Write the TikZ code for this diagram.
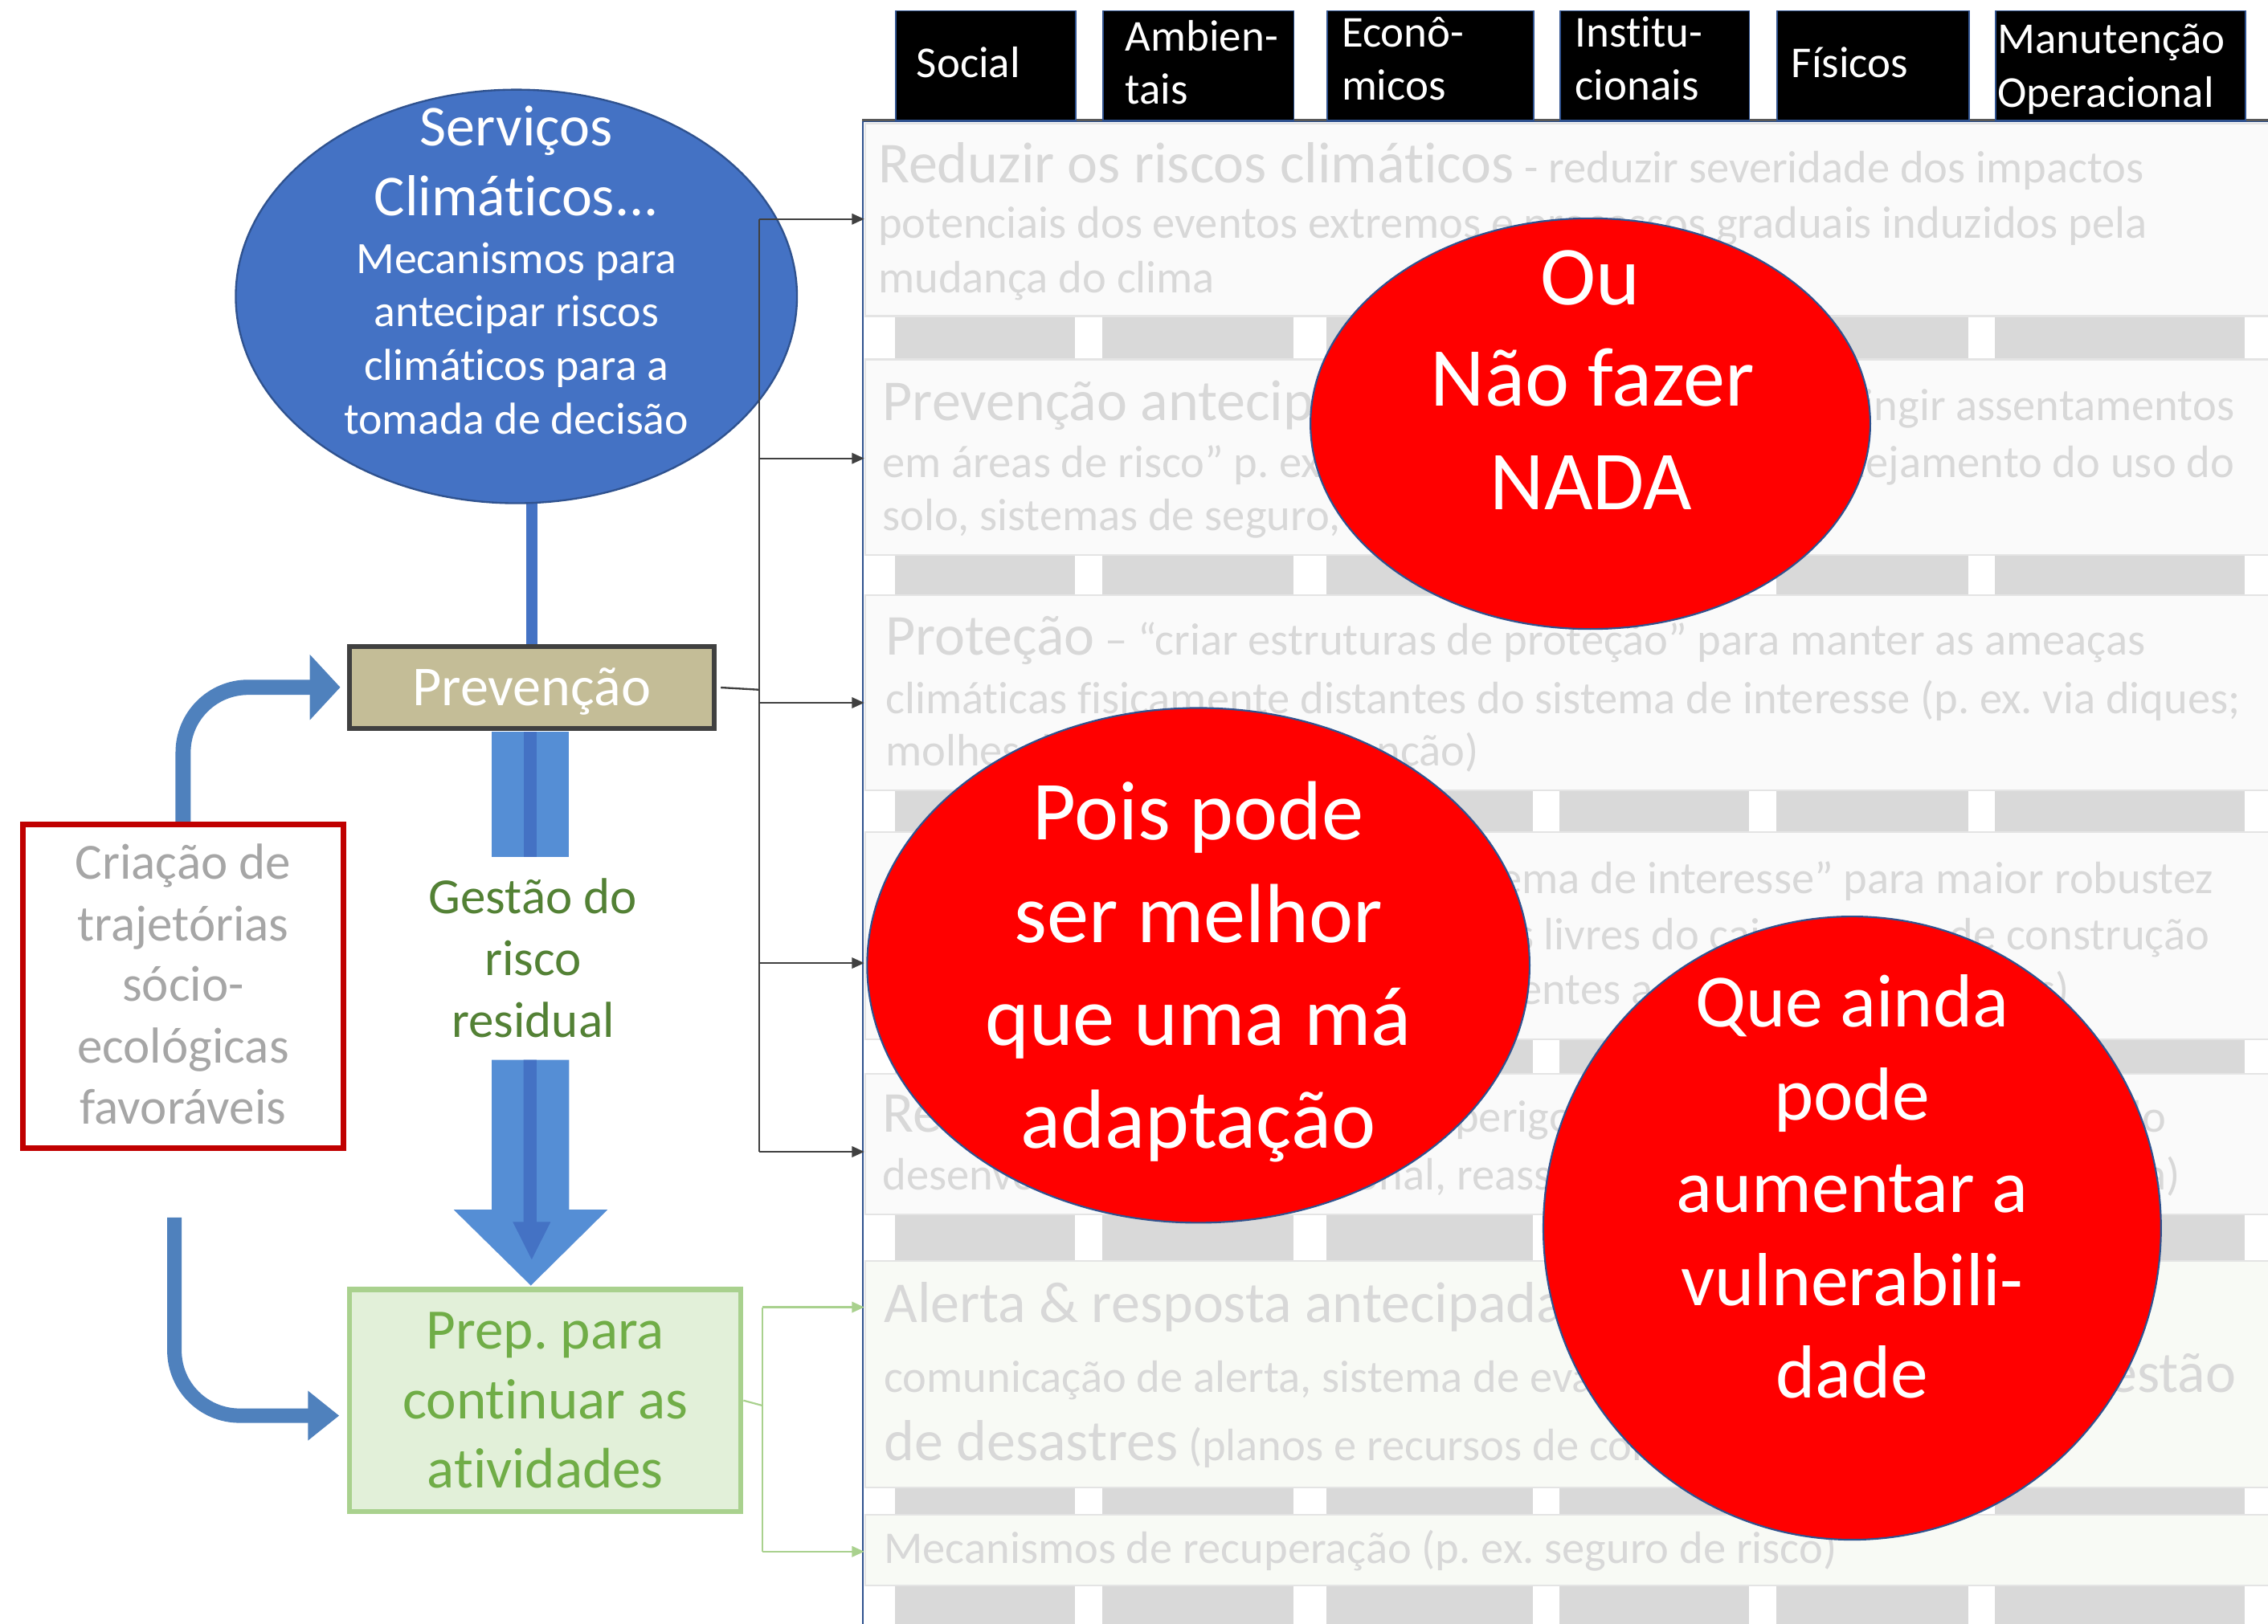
\documentclass[tikz,border=0pt]{standalone}
\usepackage{fontspec}
\setmainfont{Carlito}[Ligatures=NoCommon]
\usetikzlibrary{arrows.meta,backgrounds,shapes.geometric}
\frenchspacing
\definecolor{rowtxt}{RGB}{216,216,216}
\definecolor{rowfill}{RGB}{250,250,250}
\definecolor{rowfillg}{RGB}{248,250,245}
\definecolor{rowline}{RGB}{228,228,228}
\definecolor{stripgray}{RGB}{217,217,217}
\definecolor{hdrline}{RGB}{47,82,143}
\definecolor{panelline}{RGB}{47,82,143}
\definecolor{paneltop}{RGB}{89,89,89}
\definecolor{ellred}{RGB}{255,0,0}
\definecolor{ellline}{RGB}{47,82,143}
\definecolor{servfill}{RGB}{68,114,196}
\definecolor{prevfill}{RGB}{196,189,151}
\definecolor{prevline}{RGB}{64,64,64}
\definecolor{creared}{RGB}{192,0,0}
\definecolor{creatxt}{RGB}{166,166,166}
\definecolor{gestgreen}{RGB}{83,129,53}
\definecolor{prepfill}{RGB}{226,240,217}
\definecolor{prepline}{RGB}{169,209,142}
\definecolor{preptxt}{RGB}{112,173,71}
\definecolor{arrblue}{RGB}{85,142,213}
\definecolor{arrinner}{RGB}{68,114,196}
\definecolor{curveblue}{RGB}{79,129,189}
\definecolor{conngray}{RGB}{64,64,64}
\newcommand\fsz[1]{\fontsize{#1}{#1}\selectfont}
\newcommand\ttl[1]{{\fsz{40}#1}}
\tikzset{
  tb/.style 2 args={text height=#1pt, text depth=#2pt},
  rowbox/.style={draw=rowline, line width=1.2pt, fill=rowfill, anchor=north west, inner sep=0pt, minimum width=990pt},
  rowtext/.style={anchor=base west, inner sep=0pt, text=rowtxt, font=\fsz{31.4}, tb={24}{6}},
  hdrbox/.style={draw=hdrline, line width=1pt, fill=black, anchor=north west, inner sep=0pt, minimum height=76pt},
  hdrtext/.style={anchor=base west, inner sep=0pt, text=white, font=\fsz{30.5}, tb={22}{7}},
  redell/.style={ellipse, draw=ellline, line width=1.2pt, fill=ellred, inner sep=0pt},
  ctext/.style={anchor=base, inner sep=0pt},
  connline/.style={draw=conngray, line width=1.3pt},
  conn/.style={connline, -{Triangle[length=8.5pt,width=7.4pt]}},
  gconnline/.style={draw=prepline, line width=1.2pt},
  gconn/.style={gconnline, -{Triangle[length=8.5pt,width=7.4pt]}},
}
\begin{document}
\begin{tikzpicture}[x=1pt,y=-1pt]
\useasboundingbox (0,0) rectangle (1568,1123);
\begin{scope}[on background layer]
  \fill[white] (0,0) rectangle (1568,1123);
\end{scope}

% ---------- panel ----------
\node[draw=panelline, line width=1.3pt, fill=white, anchor=north west, minimum width=1000pt, minimum height=1060pt, inner sep=0pt] (panel) at (596,83) {};
\draw[paneltop, line width=2pt] (panel.north west) -- (panel.north east);

% gray strips
\foreach \a/\b in {619/743, 762/894, 917/1060, 1078/1209, 1228/1361, 1379/1552}{
  \foreach \t/\u in {218/248, 383/411, 546/575, 718/742, 839/871.5, 1028/1047, 1096/1130}{
    \fill[stripgray] (\a,\t) rectangle (\b,\u);
  }
}

% rows
\node[rowbox, minimum height=133pt] (r1) at (597.5,85) {};
\node[rowbox, minimum height=135pt] (r2) at (597.5,248) {};
\node[rowbox, minimum height=135pt] (r3) at (597.5,411) {};
\node[rowbox, minimum height=143pt] (r4) at (597.5,575) {};
\node[rowbox, minimum height=97pt] (r5) at (597.5,742) {};
\node[rowbox, fill=rowfillg, minimum height=156.5pt] (r6) at (597.5,871.5) {};
\node[rowbox, fill=rowfillg, minimum height=49pt] (r7) at (597.5,1047) {};

% row texts
\node[rowtext] (t11) at (607,126.5) {\ttl{Reduzir os riscos climáticos} - reduzir severidade dos impactos};
\node[rowtext] (t12) at (607,164.8) {potenciais dos eventos extremos e processos graduais induzidos pela};
\node[rowtext] (t13) at (607,202.7) {mudança do clima};

\node[rowtext] (t21) at (610,290.7) {\ttl{Prevenção antecipada} – “};
\node[rowtext, anchor=base east] (t21b) at (1545,290.7) {restringir assentamentos};
\node[rowtext] (t22) at (610,330) {em áreas de risco” p. ex. via zoneamento e};
\node[rowtext, anchor=base east] (t22b) at (1545,330) {planejamento do uso do};
\node[rowtext] (t23) at (610,367) {solo, sistemas de seguro, incentivos};

\node[rowtext] (t31) at (612,453) {\ttl{Proteção} – “criar estruturas de proteção” para manter as ameaças};
\node[rowtext] (t32) at (612,493.7) {climáticas fisicamente distantes do sistema de interesse (p. ex. via diques;};
\node[rowtext] (t33) at (612,529.8) {molhes, barreiras de contenção)};

\node[rowtext] (t41) at (612,617.8) {\ttl{Acomodação} – “adaptar o sistema de interesse” para maior robustez};
\node[rowtext] (t42) at (612,657) {(p. ex. casas sobre palafitas, bordas livres do cais, normas de construção};
\node[rowtext] (t43) at (612,694.7) {infraestrutura com materiais resistentes a ameaças hidrológicas)};

\node[rowtext] (t51) at (610,783) {\ttl{Realocação} – “afastar-se do perigo” (p. ex. via mudanças de uso do};
\node[rowtext] (t52) at (610,823) {desenvolvimento habitacional, reassentamento e relocação planejada)};

\node[rowtext] (t61) at (611,914.6) {\ttl{Alerta \& resposta antecipada} – p. ex. sistemas de};
\node[rowtext] (t62) at (611,962.6) {comunicação de alerta, sistema de evacuação,};
\node[rowtext, anchor=base east] (t62b) at (1546,962.6) {\ttl{Gestão}};
\node[rowtext] (t63) at (611,1009.9) {\ttl{de desastres} (planos e recursos de contingência)};

\node[rowtext] (t71) at (611,1081.3) {Mecanismos de recuperação (p. ex. seguro de risco)};

% ---------- header ----------
\node[hdrbox, minimum width=124pt] (h1) at (619,7) {};
\node[hdrbox, minimum width=132pt] (h2) at (762,7) {};
\node[hdrbox, minimum width=143pt] (h3) at (917,7) {};
\node[hdrbox, minimum width=131pt] (h4) at (1078,7) {};
\node[hdrbox, minimum width=133pt] (h5) at (1228,7) {};
\node[hdrbox, minimum width=173pt] (h6) at (1379,7) {};
\node[hdrtext] (ht1) at (633.5,53.7) {Social};
\node[hdrtext] (ht2) at (777.9,35.2) {Ambien-};
\node[hdrtext] (ht3) at (777.9,72.2) {tais};
\node[hdrtext] (ht4) at (927.4,32.4) {Econô-};
\node[hdrtext] (ht5) at (927.4,69.4) {micos};
\node[hdrtext] (ht6) at (1088.8,32.4) {Institu-};
\node[hdrtext] (ht7) at (1088.8,69.4) {cionais};
\node[hdrtext] (ht8) at (1238.3,53.7) {Físicos};
\node[hdrtext] (ht9) at (1380.8,37) {Manutenção};
\node[hdrtext] (ht10) at (1380.8,74) {Operacional};

% ---------- left side ----------
\node[ellipse, draw=ellline, line width=1.3pt, fill=servfill, minimum width=388pt, minimum height=286pt, inner sep=0pt] (serv) at (357,205) {};
\node[ctext, text=white, font=\fsz{40}, tb={29}{9}] (s1) at (357,101) {Serviços};
\node[ctext, text=white, font=\fsz{40}, tb={29}{9}] (s2) at (357,149) {Climáticos...};
\node[ctext, text=white, font=\fsz{31}, tb={23}{7}] (s3) at (357,189) {Mecanismos para};
\node[ctext, text=white, font=\fsz{31}, tb={23}{7}] (s4) at (357,226) {antecipar riscos};
\node[ctext, text=white, font=\fsz{31}, tb={23}{7}] (s5) at (357,263) {climáticos para a};
\node[ctext, text=white, font=\fsz{31}, tb={23}{7}] (s6) at (357,300) {tomada de decisão};

\node[draw=prevline, line width=3.5pt, fill=prevfill, minimum width=252pt, minimum height=56.7pt, inner sep=0pt] (prev) at (367.6,475.3) {};
\node[ctext, text=white, font=\fsz{39}, tb={28}{9}] (pv) at (367.6,488) {Prevenção};

\begin{scope}[on background layer]
  \draw[servfill, line width=7.8pt] ([yshift=3pt]prev.north |- serv.south) -- (prev.north);
\end{scope}

\node[draw=creared, line width=3.9pt, fill=white, minimum width=222pt, minimum height=223.8pt, inner sep=0pt] (crea) at (126.6,682) {};
\node[ctext, text=creatxt, font=\fsz{35}, tb={26}{8}] (c1) at (126.6,608) {Criação de};
\node[ctext, text=creatxt, font=\fsz{35}, tb={26}{8}] (c2) at (126.6,650.8) {trajetórias};
\node[ctext, text=creatxt, font=\fsz{35}, tb={26}{8}] (c3) at (126.6,692.5) {sócio-};
\node[ctext, text=creatxt, font=\fsz{35}, tb={26}{8}] (c4) at (126.6,735) {ecológicas};
\node[ctext, text=creatxt, font=\fsz{35}, tb={26}{8}] (c5) at (126.6,777.6) {favoráveis};

\node[draw=prepline, line width=3.5pt, fill=prepfill, minimum width=270.5pt, minimum height=153.5pt, inner sep=0pt] (prep) at (377,968.5) {};
\node[ctext, text=preptxt, font=\fsz{39.5}, tb={29}{9}] (p1) at (377,932.6) {Prep. para};
\node[ctext, text=preptxt, font=\fsz{39.5}, tb={29}{9}] (p2) at (377,981) {continuar as};
\node[ctext, text=preptxt, font=\fsz{39.5}, tb={29}{9}] (p3) at (377,1029) {atividades};

% big down arrow
\fill[arrblue] (340,506) rectangle (393.5,592.4);
\fill[arrinner] (362,506) rectangle (371,592.4);
\fill[arrblue] (340,733) -- (393.5,733) -- (393.5,836.6) -- (420,836.6) -- (367,889) -- (313.7,836.6) -- (340,836.6) -- cycle;
\fill[arrinner] (362,733) -- (371,733) -- (371,845) -- (380.7,845) -- (367.6,871) -- (354.5,845) -- (362,845) -- cycle;

\node[ctext, text=gestgreen, font=\fsz{35}, tb={26}{8}] (g1) at (368.5,632) {Gestão do};
\node[ctext, text=gestgreen, font=\fsz{35}, tb={26}{8}] (g2) at (368.5,674.6) {risco};
\node[ctext, text=gestgreen, font=\fsz{35}, tb={26}{8}] (g3) at (368.5,717.5) {residual};

% curved arrows
\draw[curveblue, line width=10.5pt, rounded corners=45pt, -{Triangle[length=21pt,width=44pt]}]
  (crea.north) -- (crea.north |- prev.west) -- ([xshift=-4.6pt]prev.west);
\coordinate (lowstart) at (120.6,842);
\coordinate (lowend) at ([xshift=-5.5pt,yshift=-10.5pt]prep.west);
\draw[curveblue, line width=10pt, rounded corners=45pt, -{Triangle[length=21.6pt,width=33pt]}]
  (lowstart) -- (lowstart |- lowend) -- (lowend);

% connectors
\coordinate (tk1) at (525,151.5);
\coordinate (tk2) at (525,317);
\coordinate (tk3) at (525,486);
\coordinate (tk4) at (525,666);
\coordinate (tk5) at (525,796.5);
\coordinate (pj) at (525,477);
\draw[connline, shorten <=3pt] (prev.east) -- (pj);
\draw[connline] (tk1) -- (tk5);
\draw[conn] (tk1) -- (r1.west |- tk1);
\draw[conn] (tk2) -- (r2.west |- tk2);
\draw[conn] (tk3) -- (r3.west |- tk3);
\draw[conn] (tk4) -- (r4.west |- tk4);
\draw[conn] (tk5) -- (r5.west |- tk5);

\coordinate (gj) at (527,972);
\coordinate (gk1) at (527,904);
\coordinate (gk2) at (527,1073);
\draw[gconnline] (prep.east) -- (gj);
\draw[gconnline] (gk1) -- (gk2);
\draw[gconn] (gk1) -- (r6.west |- gk1);
\draw[gconn] (gk2) -- (r7.west |- gk2);

% ---------- red ellipses ----------
\node[redell, minimum width=387pt, minimum height=284pt] (ou) at (1099.5,293) {};
\node[ctext, text=white, font=\fsz{58}, tb={40}{12}] (o1) at (1099.5,210.7) {Ou};
\node[ctext, text=white, font=\fsz{58}, tb={40}{12}] (o2) at (1101,281) {Não fazer};
\node[ctext, text=white, font=\fsz{58}, tb={40}{12}] (o3) at (1100,352.3) {NADA};

\node[redell, minimum width=458pt, minimum height=356pt] (pois) at (828.5,667.6) {};
\node[ctext, text=white, font=\fsz{58}, tb={40}{12}] (q1) at (828.5,580.7) {Pois pode};
\node[ctext, text=white, font=\fsz{58}, tb={40}{12}] (q2) at (828.5,651.8) {ser melhor};
\node[ctext, text=white, font=\fsz{58}, tb={40}{12}] (q3) at (828.5,723) {que uma má};
\node[ctext, text=white, font=\fsz{58}, tb={40}{12}] (q4) at (828.5,794) {adaptação};

\node[redell, minimum width=427pt, minimum height=431pt] (que) at (1280.5,849.3) {};
\node[ctext, text=white, font=\fsz{52}, tb={37}{11}] (v1) at (1280.5,710.3) {Que ainda};
\node[ctext, text=white, font=\fsz{52}, tb={37}{11}] (v2) at (1280.5,774.6) {pode};
\node[ctext, text=white, font=\fsz{52}, tb={37}{11}] (v3) at (1280.5,838.3) {aumentar a};
\node[ctext, text=white, font=\fsz{52}, tb={37}{11}] (v4) at (1280.5,902.6) {vulnerabili-};
\node[ctext, text=white, font=\fsz{52}, tb={37}{11}] (v5) at (1280.5,966.8) {dade};
\end{tikzpicture}
\end{document}
